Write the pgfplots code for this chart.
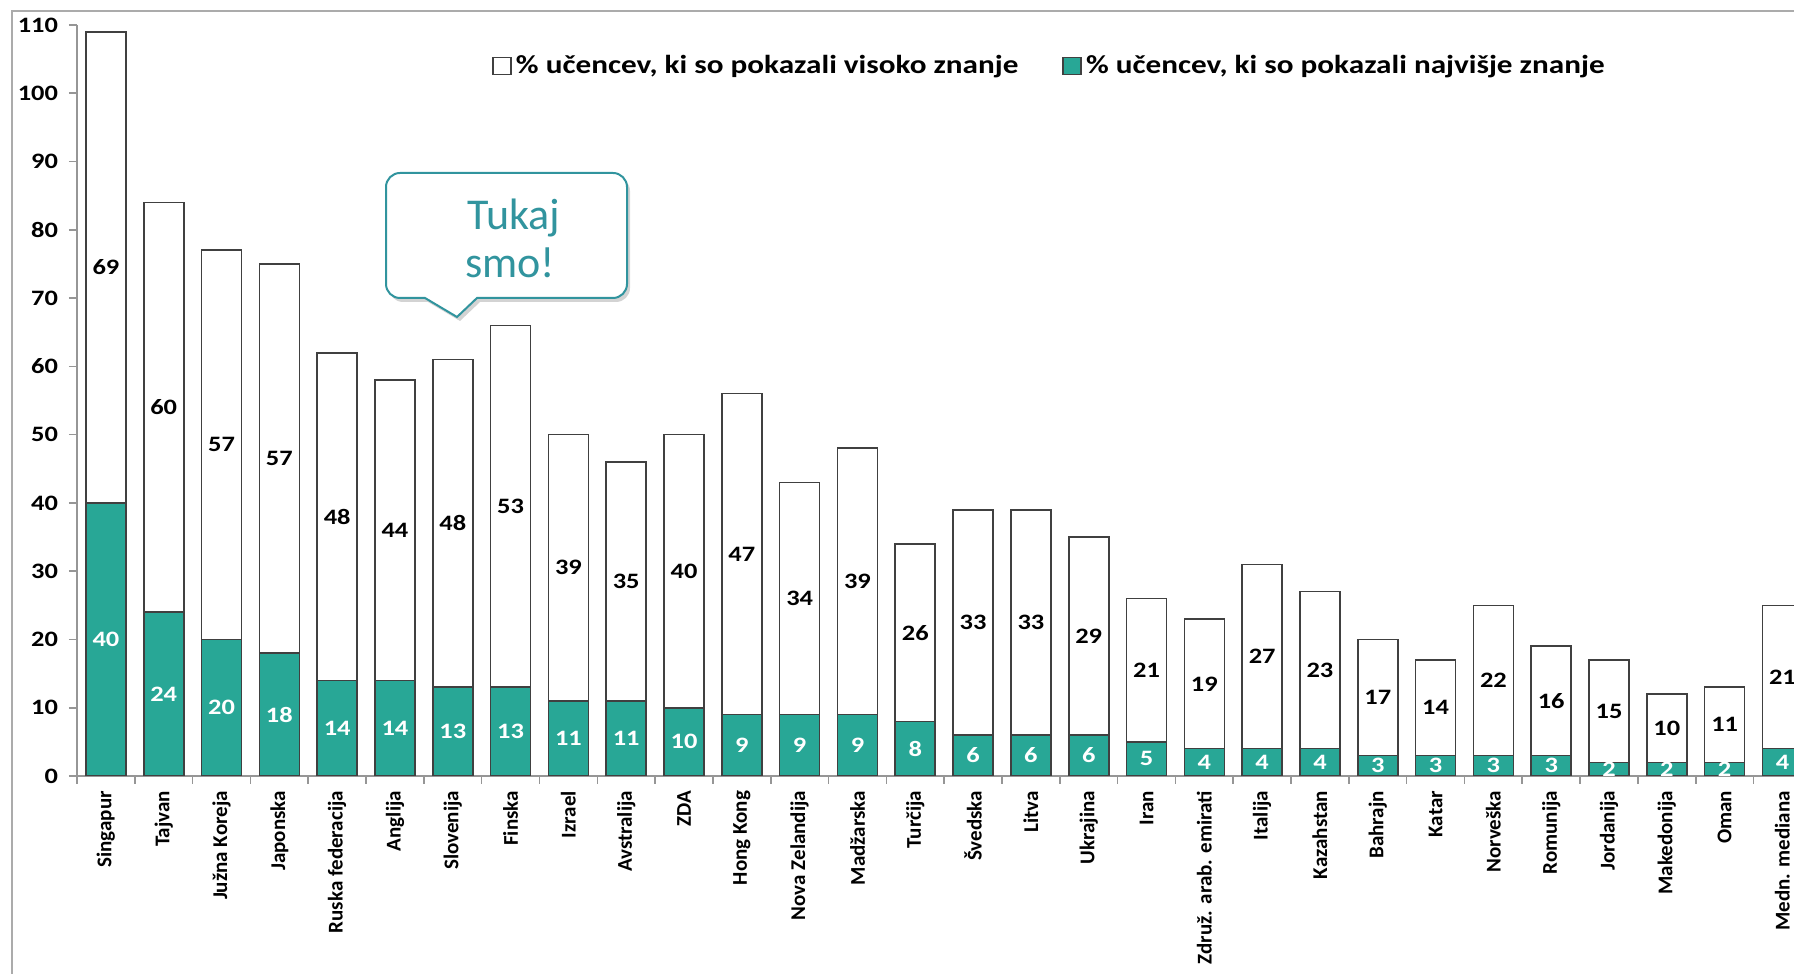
\documentclass[border=0pt]{standalone}
\usepackage{fontspec}
\setmainfont{Carlito}
\newfontfamily\wide[FakeStretch=1.2]{Carlito}
\usepackage{pgfplots}
\usepackage{pgfplotstable}
\pgfplotsset{compat=1.18}
\usetikzlibrary{shadows}
\definecolor{tealbar}{RGB}{40,167,150}
\definecolor{callout}{RGB}{49,148,158}
\definecolor{axgray}{RGB}{150,150,150}

% x, najvisje (teal, bottom), visoko (white, top)
\pgfplotstableread{
x top high
0 40 69
1 24 60
2 20 57
3 18 57
4 14 48
5 14 44
6 13 48
7 13 53
8 11 39
9 11 35
10 10 40
11 9 47
12 9 34
13 9 39
14 8 26
15 6 33
16 6 33
17 6 29
18 5 21
19 4 19
20 4 27
21 4 23
22 3 17
23 3 14
24 3 22
25 3 16
26 2 15
27 2 10
28 2 11
29 4 21
}\data

\begin{document}
\begin{tikzpicture}
\begin{axis}[
    name=ax, at={(0pt,0pt)}, anchor=south west,
    scale only axis, width=858.5pt, height=375.5pt,
    xmin=-0.5, xmax=29.2, ymin=0, ymax=110,
    ybar stacked, bar width=20pt,
    axis x line*=bottom, axis y line*=left,
    axis line style={axgray, line width=0.8pt},
    tick align=outside,
    major tick length=4pt, minor tick length=4pt,
    ytick={0,10,...,110},
    y tick style={axgray, line width=0.8pt},
    xtick={0,...,29},
    xticklabels={Singapur,Tajvan,Južna Koreja,Japonska,Ruska federacija,Anglija,Slovenija,Finska,Izrael,Avstralija,ZDA,Hong Kong,Nova Zelandija,Madžarska,Turčija,Švedska,Litva,Ukrajina,Iran,Združ. arab. emirati,Italija,Kazahstan,Bahrajn,Katar,Norveška,Romunija,Jordanija,Makedonija,Oman,Medn. mediana},
    minor xtick={-0.5,0.5,...,28.5},
    major x tick style={draw=none},
    minor x tick style={axgray, line width=0.8pt},
    xticklabel style={rotate=90, anchor=east, font=\bfseries\fontsize{10.5}{12}\selectfont},
    yticklabel style={font=\wide\bfseries\fontsize{11}{13}\selectfont, xshift=-2pt},
    /pgf/number format/assume math mode=true,
    legend style={at={(0.2417,0.9454)}, anchor=west, draw=none, fill=none,
        font=\wide\bfseries\fontsize{13}{15}\selectfont,
        legend columns=-1, inner sep=0pt,
        /tikz/every even column/.append style={column sep=20pt}},
    nodes near coords style={font=\wide\bfseries\fontsize{11}{13}\selectfont},
]
\addlegendimage{legend image code/.code={\draw[fill=white, draw=black!75, line width=0.8pt] (0pt,-4.2pt) rectangle (9pt,4.2pt);}}
\addlegendentry{\% učencev, ki so pokazali visoko znanje}
\addlegendimage{legend image code/.code={\draw[fill=tealbar, draw=black!75, line width=0.8pt] (0pt,-4.2pt) rectangle (9pt,4.2pt);}}
\addlegendentry{\% učencev, ki so pokazali najvišje znanje}

\addplot[fill=tealbar, draw=black!75, line width=0.8pt, forget plot,
    nodes near coords, point meta=rawy,
    every node near coord/.append style={text=white, anchor=center}]
    table[x=x, y=top] {\data};
\addplot[fill=white, draw=black!75, line width=0.8pt, forget plot,
    nodes near coords, point meta=rawy,
    every node near coord/.append style={text=black, anchor=center}]
    table[x=x, y=high] {\data};
\end{axis}

% chart area frame (top and left)
\draw[axgray!80, line width=0.8pt] (-32.5pt,-99pt) -- (-32.5pt,382.5pt) -- (858.5pt,382.5pt);

% callout
\draw[callout, line width=1pt, fill=white,
      drop shadow={opacity=0.35, shadow xshift=1.5pt, shadow yshift=-2pt}]
  (174pt,239pt) -- (161.5pt,239pt) arc[start angle=270, end angle=180, radius=7pt]
  -- (154.5pt,294.5pt) arc[start angle=180, end angle=90, radius=7pt]
  -- (268pt,301.5pt) arc[start angle=90, end angle=0, radius=7pt]
  -- (275pt,246pt) arc[start angle=0, end angle=-90, radius=7pt]
  -- (200pt,239pt) -- (190pt,229.5pt) -- cycle;
\node[anchor=base west, inner sep=0pt, text=callout, font=\fontsize{22}{26}\selectfont] at (195pt,273pt) {Tukaj};
\node[anchor=base west, inner sep=0pt, text=callout, font=\fontsize{22}{26}\selectfont] at (194pt,249pt) {smo!};

\pgfresetboundingbox
\useasboundingbox (-38.5pt,-99pt) rectangle (858.5pt,388pt);
\end{tikzpicture}
\end{document}
